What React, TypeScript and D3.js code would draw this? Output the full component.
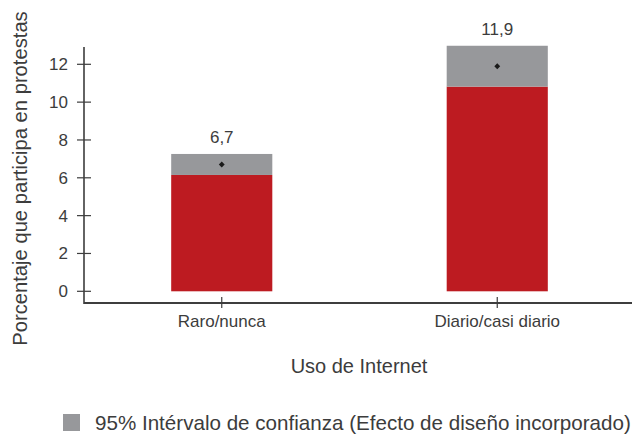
import * as d3 from 'd3';

const categories = ['Raro/nunca', 'Diario/casi diario'];
const lowerCI = [6.15, 10.82];
const upperCI = [7.26, 12.98];
const estimates = [6.7, 11.9];
const valueLabels = ['6,7', '11,9'];
const yTicks = [0, 2, 4, 6, 8, 10, 12];

const FONT = '"Liberation Sans", Arial, sans-serif';
const TEXT = '#3c3c3c';
const AXIS = '#3d3d3d';
const RED = '#bd1b21';
const GREY = '#97989b';

export default function App() {
  const width = 632;
  const height = 435;
  const left = 84;
  const zeroY = 291.3;
  const axisY = 303;

  const y = d3.scaleLinear().domain([0, 12]).range([zeroY, 64.3]);
  const x = d3
    .scaleBand()
    .domain(categories)
    .range([left, 635])
    .paddingInner(0.633)
    .paddingOuter(0.3165);

  const marker = d3.symbol().type(d3.symbolDiamond2).size(22)();

  return (
    <svg
      width={width}
      height={height}
      style={{ position: 'absolute', left: 0, top: 0, background: '#fff' }}
      fontFamily={FONT}
    >
      {/* bars: red up to lower CI, grey band for the 95% interval */}
      {categories.map((c, i) => {
        const bx = x(c)!;
        const bw = x.bandwidth();
        const cx = bx + bw / 2;
        return (
          <g key={c}>
            <rect x={bx} y={y(lowerCI[i])} width={bw} height={y(0) - y(lowerCI[i])} fill={RED} />
            <rect
              x={bx}
              y={y(upperCI[i])}
              width={bw}
              height={y(lowerCI[i]) - y(upperCI[i])}
              fill={GREY}
            />
            <path d={marker!} transform={`translate(${cx},${y(estimates[i])})`} fill="#1a1a1a" />
            <text x={cx} y={y(upperCI[i]) - 11} textAnchor="middle" fontSize={17} fill={TEXT}>
              {valueLabels[i]}
            </text>
          </g>
        );
      })}

      {/* y axis */}
      <line x1={left} x2={left} y1={47} y2={axisY + 1} stroke={AXIS} strokeWidth={1.6} />
      {yTicks.map((t) => (
        <g key={t} transform={`translate(0,${y(t)})`}>
          <line x1={left - 7} x2={left + 7} stroke={AXIS} strokeWidth={1.2} />
          <text x={68} dy="0.35em" textAnchor="end" fontSize={17} fill={TEXT}>
            {t}
          </text>
        </g>
      ))}

      {/* x axis */}
      <line x1={left} x2={width} y1={axisY} y2={axisY} stroke={AXIS} strokeWidth={2} />
      {categories.map((c) => {
        const cx = x(c)! + x.bandwidth() / 2;
        return (
          <g key={c}>
            <line x1={cx} x2={cx} y1={axisY - 6} y2={axisY + 5} stroke={AXIS} strokeWidth={1.2} />
            <text x={cx} y={327.3} textAnchor="middle" fontSize={17} fill={TEXT}>
              {c}
            </text>
          </g>
        );
      })}

      {/* axis titles */}
      <text x={359} y={373.3} textAnchor="middle" fontSize={20} fill={TEXT}>
        Uso de Internet
      </text>
      <text
        transform="translate(26.5,178.5) rotate(-90)"
        textAnchor="middle"
        fontSize={20.2}
        fill={TEXT}
      >
        Porcentaje que participa en protestas
      </text>

      {/* legend */}
      <rect x={63} y={414} width={17} height={17} fill={GREY} />
      <text x={95} y={430} fontSize={20.6} fill={TEXT}>
        95% Intérvalo de confianza (Efecto de diseño incorporado)
      </text>
    </svg>
  );
}
